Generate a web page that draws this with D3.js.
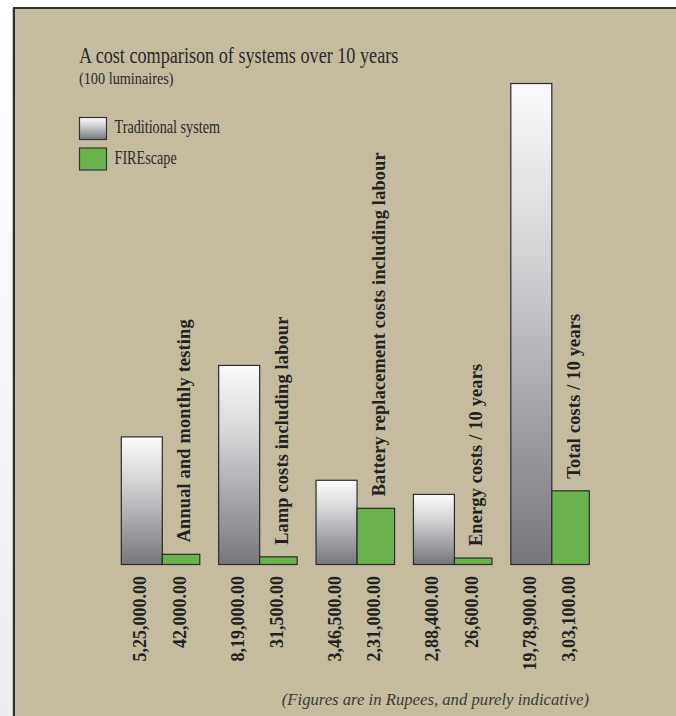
<!DOCTYPE html>
<html>
<head>
<meta charset="utf-8">
<script src="https://cdn.jsdelivr.net/npm/d3@7"></script>
<style>
  body { margin: 0; background: #fff; }
  text { font-family: "Liberation Serif", "Times New Roman", serif; }
</style>
</head>
<body>
<svg id="chart" width="676" height="716"></svg>
<script>
// values (Rupees)
categories = ["Annual and monthly testing", "Lamp costs including labour",
  "Battery replacement costs including labour", "Energy costs / 10 years", "Total costs / 10 years"]
traditional = [525000, 819000, 346500, 288400, 1978900]
firescape = [42000, 31500, 231000, 26600, 303100]
series = ["Traditional system", "FIREscape"]

// indian digit grouping: 19,78,900.00
function fmt_inr(v) {
  let s = Math.round(v).toString(),
    last3 = s.slice(-3),
    rest = s.slice(0, -3).replace(/\B(?=(\d{2})+(?!\d))/g, ",")
  return (rest ? rest + "," + last3 : last3) + ".00"
}

// the original type is a condensed times, so squeeze it horizontally
function condensed(sel, x, y, size, sx, str) {
  return sel.append("text")
    .attr("transform", `translate(${x}, ${y}) scale(${sx}, 1)`)
    .attr("font-size", size).attr("fill", "#2a2a2a")
    .text(str)
}

function visualize() {
  let svg = d3.select("#chart")
  let defs = svg.append("defs")

  let g1 = defs.append("linearGradient").attr("id", "steel")
    .attr("x1", 0).attr("y1", 0).attr("x2", 0).attr("y2", 1)
  g1.append("stop").attr("offset", "0%").attr("stop-color", "#fbfbfb")
  g1.append("stop").attr("offset", "35%").attr("stop-color", "#d3d4d6")
  g1.append("stop").attr("offset", "100%").attr("stop-color", "#76777b")

  let g2 = defs.append("linearGradient").attr("id", "side")
    .attr("x1", 0).attr("y1", 0).attr("x2", 0).attr("y2", 1)
  g2.append("stop").attr("offset", "0%").attr("stop-color", "#ffffff")
  g2.append("stop").attr("offset", "100%").attr("stop-color", "#eceeee")

  // page + panel
  svg.append("rect").attr("x", 0).attr("y", 0).attr("width", 14).attr("height", 716).attr("fill", "url(#side)")
  svg.append("line").attr("x1", 12.5).attr("x2", 12.5).attr("y1", 8).attr("y2", 716)
    .attr("stroke", "#c4c4c4").attr("stroke-width", 1)
  svg.append("rect").attr("x", 14).attr("y", 8).attr("width", 670).attr("height", 720)
    .attr("fill", "#c5bca0").attr("stroke", "#2f2f2f").attr("stroke-width", 2)

  // title
  condensed(svg, 79, 62.7, 23, 0.79, "A cost comparison of systems over 10 years")
  condensed(svg, 79, 84, 16.2, 0.88, "(100 luminaires)")

  // legend
  let legend = svg.append("g").selectAll("g")
    .data(series).enter()
    .append("g")
    .attr("transform", (d, i) => `translate(79.5, ${117.5 + i * 30.5})`)
  legend.append("rect")
    .attr("width", 27).attr("height", 22)
    .attr("fill", (d, i) => i == 0 ? "url(#steel)" : "#6ab24d")
    .attr("stroke", "#333").attr("stroke-width", 1.2)
  legend.each(function(d) { condensed(d3.select(this), 35, 15.6, 18.2, 0.78, d) })

  let x = d3.scaleBand()
    .domain(categories)
    .range([121.3, 589.3])
    .paddingInner(0.194)
  let y = d3.scaleLinear()
    .domain([0, d3.max(traditional)])
    .range([564.5, 83.5])
  let w_trad = 41, w_fire = 37.5

  let data = categories.map((c, i) => ({cat: c, trad: traditional[i], fire: firescape[i]}))

  let groups = svg.append("g").selectAll("g")
    .data(data).enter()
    .append("g")

  groups.append("rect")
    .attr("x", d => x(d.cat))
    .attr("y", d => y(d.trad))
    .attr("width", w_trad)
    .attr("height", d => y(0) - y(d.trad))
    .attr("fill", "url(#steel)")
    .attr("stroke", "#2b2b2b").attr("stroke-width", 1.2)

  groups.append("rect")
    .attr("x", d => x(d.cat) + w_trad)
    .attr("y", d => y(d.fire))
    .attr("width", w_fire)
    .attr("height", d => y(0) - y(d.fire))
    .attr("fill", "#6ab24d")
    .attr("stroke", "#2b2b2b").attr("stroke-width", 1.2)

  // category names, standing on the green bars
  groups.append("text")
    .attr("transform", d => `translate(${x(d.cat) + w_trad + 28}, ${y(d.fire) - 12}) rotate(-90)`)
    .attr("font-size", 18.3).attr("font-weight", "bold").attr("fill", "#222")
    .attr("letter-spacing", 0.2)
    .text(d => d.cat)

  // values under each bar
  groups.append("text")
    .attr("transform", d => `translate(${x(d.cat) + w_trad / 2 + 4.5}, 576) rotate(-90)`)
    .attr("text-anchor", "end").attr("font-size", 18).attr("font-weight", "bold").attr("fill", "#222")
    .text(d => fmt_inr(d.trad))
  groups.append("text")
    .attr("transform", d => `translate(${x(d.cat) + w_trad + w_fire / 2 + 4.5}, 576) rotate(-90)`)
    .attr("text-anchor", "end").attr("font-size", 18).attr("font-weight", "bold").attr("fill", "#222")
    .text(d => fmt_inr(d.fire))

  svg.append("text")
    .attr("x", 589).attr("y", 705)
    .attr("text-anchor", "end").attr("font-size", 16.7).attr("font-style", "italic").attr("fill", "#3a3a3a")
    .text("(Figures are in Rupees, and purely indicative)")
}

visualize()
</script>
</body>
</html>
